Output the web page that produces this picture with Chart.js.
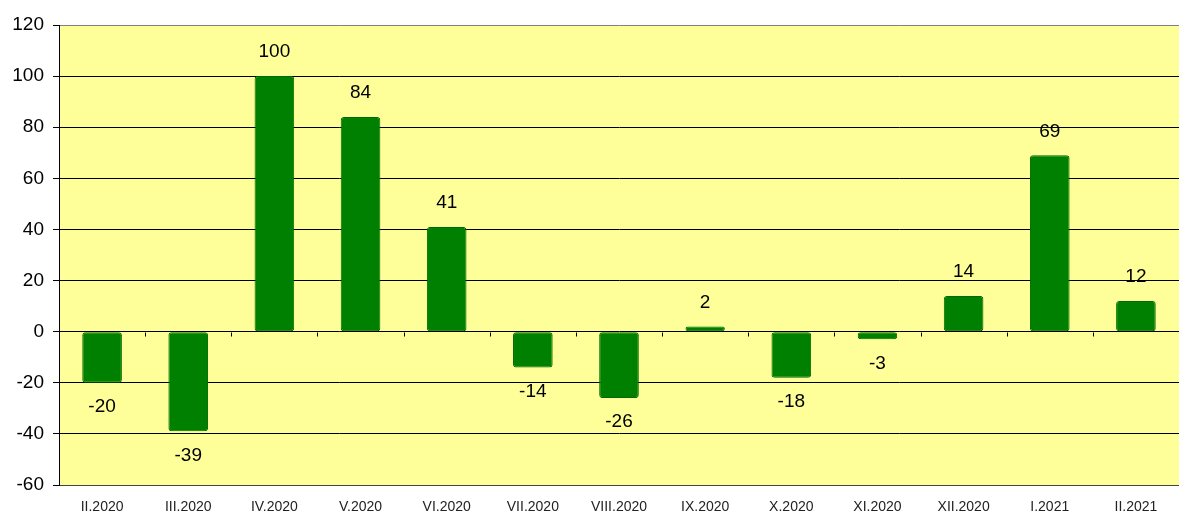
<!DOCTYPE html>
<html>
<head>
<meta charset="utf-8">
<script src="https://cdn.jsdelivr.net/npm/chart.js@4"></script>
<style>
  html, body { margin: 0; padding: 0; background: #fff; }
  #wrap { width: 1179px; height: 514px; }
</style>
</head>
<body>
<div id="wrap"><canvas id="chart" width="1179" height="514"></canvas></div>
<script>
// data
const months = ["II.2020", "III.2020", "IV.2020", "V.2020", "VI.2020", "VII.2020", "VIII.2020",
                "IX.2020", "X.2020", "XI.2020", "XII.2020", "I.2021", "II.2021"];
const changes = [-20, -39, 100, 84, 41, -14, -26, 2, -18, -3, 14, 69, 12];
const yTicks = [-60, -40, -20, 0, 20, 40, 60, 80, 100, 120];

// yellow plot background
const plotBg = {
    id: 'plotBg',
    beforeDraw(chart) {
        const { ctx, chartArea: a } = chart;
        ctx.save();
        ctx.fillStyle = '#FFFF99';
        ctx.fillRect(a.left, a.top, a.right - a.left, a.bottom - a.top);
        ctx.restore();
    }
};

// small tick marks on the zero line between categories, plus value labels
const extras = {
    id: 'extras',
    afterDatasetsDraw(chart) {
        const { ctx } = chart;
        const x = chart.scales.x, y = chart.scales.y;
        const y0 = Math.round(y.getPixelForValue(0)) + 0.5;
        ctx.save();
        ctx.strokeStyle = '#000';
        ctx.lineWidth = 1;
        ctx.beginPath();
        for (let i = 0; i <= months.length; i++) {
            const px = Math.round(x.getPixelForValue(i - 0.5)) + 0.5;
            ctx.moveTo(px, y0);
            ctx.lineTo(px, y0 + 4);
        }
        ctx.stroke();

        ctx.fillStyle = '#000';
        ctx.font = '19px "Liberation Sans", Arial, sans-serif';
        ctx.textAlign = 'center';
        ctx.textBaseline = 'middle';
        chart.getDatasetMeta(0).data.forEach((bar, i) => {
            const v = changes[i];
            const off = 24;
            const ty = v >= 0 ? bar.y - off : bar.y + off;
            ctx.fillText(String(v), bar.x, ty);
        });
        ctx.restore();
    }
};

const ctx = document.getElementById('chart').getContext('2d');
new Chart(ctx, {
    type: 'bar',
    data: {
        labels: months,
        datasets: [{
            data: changes,
            backgroundColor: '#008000',
            borderColor: '#006a00',
            borderWidth: 1,
            borderRadius: 3,
            borderSkipped: false,
            barPercentage: 0.92,
            categoryPercentage: 0.5
        }]
    },
    options: {
        responsive: false,
        animation: false,
        layout: { padding: { top: 25, right: 0, left: 0, bottom: 0 } },
        plugins: {
            legend: { display: false },
            tooltip: { enabled: false }
        },
        scales: {
            x: {
                grid: { display: false, drawTicks: false },
                border: { color: '#444', width: 1 },
                ticks: {
                    color: '#222',
                    font: { family: '"Liberation Sans", Arial, sans-serif', size: 14 },
                    padding: 14,
                    maxRotation: 0,
                    autoSkip: false
                },
                afterFit(scale) { scale.height = 29; }
            },
            y: {
                min: -60,
                max: 120,
                afterBuildTicks(scale) { scale.ticks = yTicks.map(v => ({ value: v })); },
                grid: {
                    color: (c) => c.tick && c.tick.value === 120 ? '#808080' : '#000',
                    lineWidth: 1,
                    tickLength: 6,
                    tickColor: '#000'
                },
                border: { color: '#000', width: 1 },
                ticks: {
                    color: '#000',
                    font: { family: '"Liberation Sans", Arial, sans-serif', size: 19 },
                    padding: 9
                },
                afterFit(scale) { scale.width = 59; }
            }
        }
    },
    plugins: [plotBg, extras]
});
</script>
</body>
</html>
